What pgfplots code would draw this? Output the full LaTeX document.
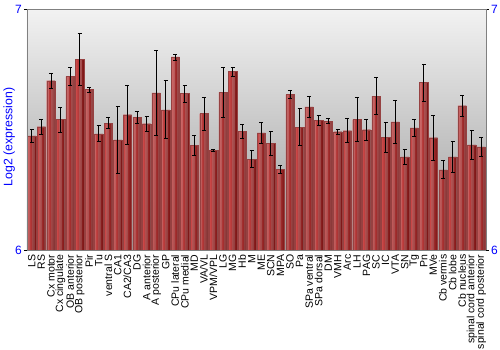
\documentclass[border=0pt]{standalone}
\usepackage{fontspec}
\setmainfont{Liberation Sans}
\usepackage{pgfplots}
\usepackage{pgfplotstable}
\pgfplotsset{compat=1.18}
\definecolor{barL}{RGB}{212,78,78}
\definecolor{barR}{RGB}{118,18,18}
\definecolor{barE}{RGB}{150,65,65}
\definecolor{bgTop}{RGB}{242,242,242}
\definecolor{bgBot}{RGB}{155,155,155}
\pgfplotstableread{
x y ep em
0 6.475 0.028 0.026
1 6.5125 0.030 0.031
2 6.704 0.032 0.032
3 6.542 0.051 0.052
4 6.721 0.039 0.035
5 6.792 0.107 0.106
6 6.668 0.008 0.011
7 6.483 0.034 0.030
8 6.528 0.022 0.021
9 6.458 0.138 0.138
10 6.5625 0.122 0.122
11 6.553 0.022 0.025
12 6.525 0.032 0.033
13 6.653 0.176 0.175
14 6.583 0.121 0.118
15 6.803 0.012 0.013
16 6.651 0.035 0.036
17 6.435 0.041 0.043
18 6.567 0.068 0.068
19 6.415 0.003 0.004
20 6.655 0.106 0.104
21 6.743 0.017 0.019
22 6.493 0.029 0.028
23 6.378 0.037 0.036
24 6.4875 0.045 0.045
25 6.444 0.051 0.049
26 6.335 0.016 0.015
27 6.646 0.019 0.017
28 6.511 0.077 0.076
29 6.595 0.045 0.045
30 6.540 0.020 0.020
31 6.535 0.012 0.010
32 6.492 0.011 0.010
33 6.496 0.051 0.049
34 6.542 0.093 0.092
35 6.500 0.043 0.043
36 6.640 0.078 0.075
37 6.468 0.064 0.064
38 6.533 0.091 0.089
39 6.3875 0.031 0.030
40 6.508 0.035 0.034
41 6.696 0.078 0.076
42 6.467 0.093 0.093
43 6.333 0.039 0.034
44 6.3875 0.066 0.064
45 6.600 0.042 0.043
46 6.4375 0.060 0.060
47 6.429 0.041 0.039
}\datatable
\begin{document}
\begin{tikzpicture}
\useasboundingbox (-27pt,-100pt) rectangle (473pt,250pt);
\begin{axis}[
  at={(0,0)}, anchor=south west,
  scale only axis, width=459pt, height=240.5pt,
  xmin=-0.5, xmax=47.5, ymin=6, ymax=7,
  axis background/.style={top color=bgTop, bottom color=bgBot},
  axis line style={gray, line width=0.8pt},
  axis on top,
  xtick=data,
  xticklabels={LS,RS,Cx motor,Cx cingulate,OB anterior,OB posterior,Pir,Tu,ventral S,CA1,CA2/CA3,DG,A anterior,A posterior,GP,CPu lateral,CPu medial,MD,VA/VL,VPM/VPL,LG,MG,Hb,M,ME,SCN,MPA,SO,Pa,SPa ventral,SPa dorsal,DM,VMH,Arc,LH,PAG,SC,IC,VTA,SN,Tg,Pn,MVe,Cb vermis,Cb lobe,Cb nucleus,spinal cord anterior,spinal cord posterior},
  xticklabel style={rotate=90, anchor=east, font=\fontsize{10.5}{10.5}\selectfont, inner sep=1.5pt},
  x tick style={draw=none},
  ytick={6,7}, ytick pos=left,
  y tick style={black, line width=0.8pt},
  tick align=outside, major tick length=3pt,
  yticklabel style={text=blue, font=\fontsize{12}{12}\selectfont, inner sep=2pt},
  /pgf/number format/assume math mode=true,
  ylabel={Log2 (expression)},
  ylabel style={at={(axis description cs:-0.039,0.47)}, anchor=center, text=blue, font=\fontsize{12.3}{12.3}\selectfont},
]
\pgfplotsinvokeforeach{0,1,2,3,4,5,6,7,8,9}{
  \addplot[ybar, bar width=0.088, bar shift={(#1-4.5)*0.088}, fill=barR!#10!barL, draw=none, forget plot]
    table[x=x, y=y]{\datatable};
}
\addplot[ybar, bar width=0.88, fill=none, draw=barE, line width=0.3pt, forget plot]
  table[x=x, y=y]{\datatable};
\addplot[only marks, mark=*, mark size=0pt, forget plot,
  error bars/.cd, y dir=both, y explicit,
  error bar style={draw=black, line width=0.7pt},
  error mark=-,
  error mark options={draw=black, mark size=2pt, line width=0.7pt, rotate=90}]
  table[x=x, y=y, y error plus=ep, y error minus=em]{\datatable};
\end{axis}
\begin{axis}[
  at={(0,0)}, anchor=south west,
  scale only axis, width=459pt, height=240.5pt,
  xmin=-0.5, xmax=47.5, ymin=6, ymax=7,
  axis x line=none, axis y line*=right,
  axis line style={gray, line width=0.8pt},
  ytick={6,7},
  y tick style={black, line width=0.8pt},
  tick align=outside, major tick length=3pt,
  yticklabel style={text=blue, font=\fontsize{12}{12}\selectfont, inner sep=2pt},
  /pgf/number format/assume math mode=true,
]
\addplot[draw=none] coordinates {(0,6.5)};
\end{axis}
\end{tikzpicture}
\end{document}
